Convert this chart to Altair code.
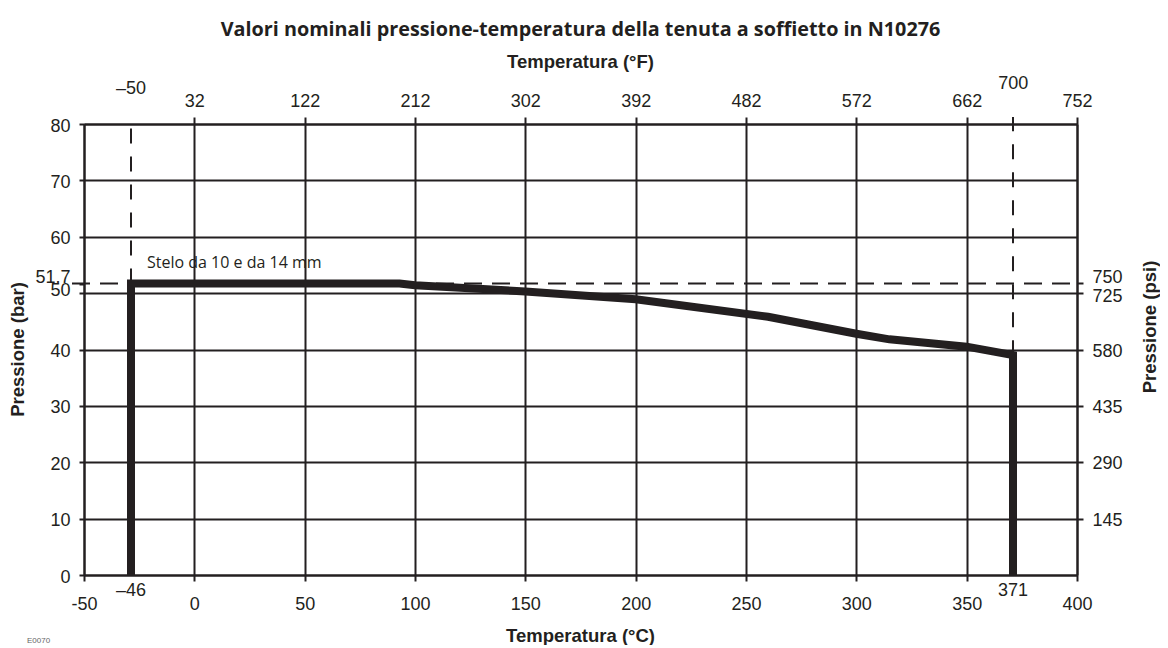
import altair as alt
import pandas as pd

# ---- data ----
title_text = "Valori nominali pressione-temperatura della tenuta a soffietto in N10276"
x_ticks_c = [-50, 0, 50, 100, 150, 200, 250, 300, 350, 400]
y_ticks_bar = [0, 10, 20, 30, 40, 50, 60, 70, 80, 51.7]
top_ticks_f = [32, 122, 212, 302, 392, 482, 572, 662, 752]
right_ticks_psi = [145, 290, 435, 580, 725, 750]

# rating curve (temperature as drawn, deg C ; pressure, bar)
curve_c = [-28.7, -28.7, 93, 100, 150, 200, 260, 300, 315, 350, 371, 371]
curve_bar = [0, 51.7, 51.7, 51.4, 50.3, 48.9, 45.8, 42.8, 41.8, 40.5, 39.0, 0]

# dashed limit lines
vline_c = [-28.7, 371]
vline_bar = [51.7, 39.0]
hline_bar = [51.7]

# special limit labels
lim_c_pos = [-28.7, 371]
lim_c_lab = ["\u201346", "371"]
lim_f_pos = [-28.7, 371.1]
lim_f_lab = ["\u201350", "700"]

INK = "#231f20"
W, H = 993, 451
LBL = 18

curve = pd.DataFrame({"c": curve_c, "bar": curve_bar, "i": list(range(len(curve_c)))})
vl = pd.DataFrame({"c": vline_c, "bar": vline_bar})
hl = pd.DataFrame({"bar": hline_bar})
limc = pd.DataFrame({"c": lim_c_pos, "lab": lim_c_lab})
limf = pd.DataFrame({"c": lim_f_pos, "lab": lim_f_lab})

xs = alt.Scale(domain=[-50, 400], nice=False, zero=False)
ys = alt.Scale(domain=[0, 80], nice=False, zero=False)

common_axis = dict(
    title=None, domainColor=INK, domainWidth=2, tickColor=INK, tickWidth=2,
    labelFont="Liberation Sans", labelFontSize=LBL, labelColor=INK,
    labelOverlap=False, labelFlush=False,
    labelExpr="'' + datum.value",
)

x_axis = alt.Axis(orient="bottom", values=x_ticks_c, grid=True, gridColor=INK, gridWidth=2,
                  tickSize=6, labelPadding=14, **common_axis)
y_axis = alt.Axis(orient="left", values=y_ticks_bar, grid=True, gridColor=INK, gridWidth=2,
                  gridOpacity={"condition": {"test": "datum.value == 51.7", "value": 0}, "value": 1},
                  labelOffset={"condition": [{"test": "datum.value == 51.7", "value": -6},
                                             {"test": "datum.value == 50", "value": -3}], "value": 2},
                  tickSize=5, labelPadding=9, **common_axis)

line = alt.Chart(curve).mark_line(strokeWidth=8, color=INK, strokeJoin="miter", strokeCap="butt").encode(
    x=alt.X("c:Q", scale=xs, axis=x_axis),
    y=alt.Y("bar:Q", scale=ys, axis=y_axis),
    order="i:Q",
)

vrules = alt.Chart(vl).mark_rule(strokeWidth=2, color=INK, strokeDash=[15, 13]).encode(
    x=alt.X("c:Q", scale=xs),
    y=alt.Y("bar:Q", scale=ys),
    y2=alt.value(-7),
)

hrule = alt.Chart(hl).mark_rule(strokeWidth=2, color=INK, strokeDash=[18, 10]).encode(
    y=alt.Y("bar:Q", scale=ys),
    x=alt.value(-12),
    x2=alt.value(W + 3),
)

lab_font = dict(font="Liberation Sans", fontSize=LBL, color=INK)

limc_text = alt.Chart(limc).mark_text(baseline="middle", align="center", **lab_font).encode(
    x=alt.X("c:Q", scale=xs), y=alt.value(H + 16), text="lab:N")

limf_a = alt.Chart(limf).transform_filter("datum.c < 0").mark_text(baseline="middle", align="center", **lab_font).encode(
    x=alt.X("c:Q", scale=xs), y=alt.value(-35), text="lab:N")
limf_b = alt.Chart(limf).transform_filter("datum.c > 0").mark_text(baseline="middle", align="center", **lab_font).encode(
    x=alt.X("c:Q", scale=xs), y=alt.value(-40), text="lab:N")

def txt(s, x, y, size, weight="bold", font="Liberation Sans", angle=0, align="center", color=INK, baseline="middle"):
    kw = dict(font=font, fontSize=size, fontWeight=weight, align=align, baseline=baseline, color=color)
    if angle:
        kw["angle"] = angle
    return alt.Chart(pd.DataFrame({"t": [s]})).mark_text(**kw).encode(
        text="t:N", x=alt.value(x), y=alt.value(y))

title = txt(title_text, W / 2, -94, 19.8, font="Open Sans")
t_top = txt("Temperatura (\u00b0F)", W / 2, -62, 18.5)
t_bot = txt("Temperatura (\u00b0C)", W / 2, H + 61, 18.5)
t_left = txt("Pressione (bar)", -66, H / 2, 18.5, angle=270)
t_right = txt("Pressione (psi)", W + 73, 203, 18.5, angle=270)
t_note = txt("Stelo da 10 e da 14 mm", 63, 139, 16, weight="normal", font="Open Sans", align="left")
t_code = txt("E0070", -57, H + 62, 8, weight="normal", font="Liberation Sans", align="left", color="#666", baseline="top")

layer_a = alt.layer(hrule, vrules, line, limc_text, limf_a, limf_b,
                    title, t_top, t_bot, t_left, t_right, t_note, t_code)

# secondary axes: deg F on top, psi on the right
sec = pd.DataFrame({"f": [-58, 752], "psi": [0, 1160]})
layer_b = alt.Chart(sec).mark_point(opacity=0).encode(
    x=alt.X("f:Q", scale=alt.Scale(domain=[-58, 752], nice=False, zero=False),
            axis=alt.Axis(orient="top", values=top_ticks_f, grid=False, tickSize=7, labelPadding=7, **common_axis)),
    y=alt.Y("psi:Q", scale=alt.Scale(domain=[0, 1160], nice=False, zero=False),
            axis=alt.Axis(orient="right", values=right_ticks_psi, grid=False, tickSize=6, labelPadding=9,
                          labelOffset={"condition": [{"test": "datum.value == 750", "value": -5.5},
                                                     {"test": "datum.value == 725", "value": 3}], "value": 1.5},
                          **common_axis)),
)

chart = alt.layer(layer_a, layer_b).resolve_scale(x="independent", y="independent").properties(
    width=W, height=H,
    padding={"left": 76, "top": 116, "right": 83, "bottom": 70},
    autosize=alt.AutoSizeParams(type="none"),
    background="white",
).configure_view(strokeWidth=0)

chart.save("out.html", embed_options={"renderer": "svg", "actions": False})
